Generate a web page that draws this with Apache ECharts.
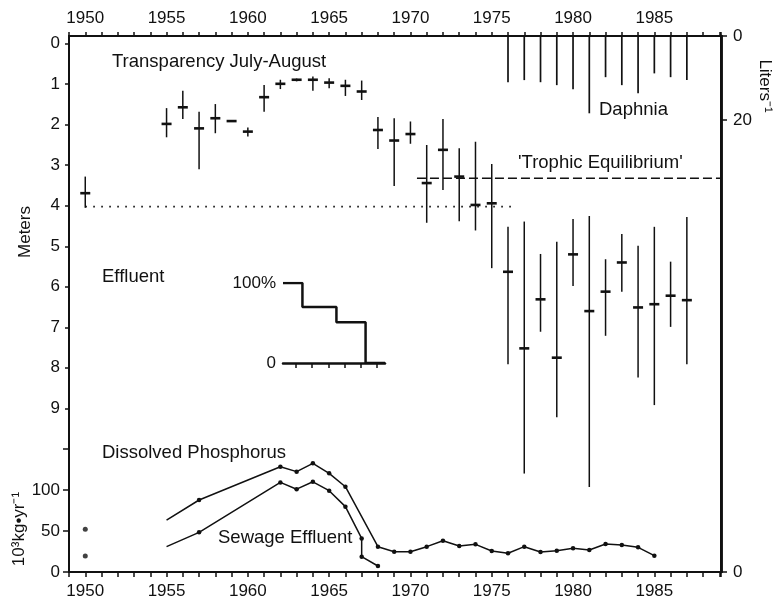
<!DOCTYPE html>
<html>
<head>
<meta charset="utf-8">
<style>
  html, body { margin: 0; padding: 0; background: #fff; }
  #chart { width: 775px; height: 603px; }
</style>
</head>
<body>
<div id="chart"></div>
<script src="https://cdn.jsdelivr.net/npm/echarts@6/dist/echarts.min.js"></script>
<script>
// Secchi transparency, July-August (meters): mean and range per year
var transYears = [1950, 1955, 1956, 1957, 1958, 1959, 1960, 1961, 1962, 1963, 1964, 1965, 1966, 1967, 1968, 1969, 1970,
                  1971, 1972, 1973, 1974, 1975, 1976, 1977, 1978, 1979, 1980, 1981, 1982, 1983, 1984, 1985, 1986, 1987];
var transMean = [3.69, 1.98, 1.57, 2.09, 1.84, 1.91, 2.17, 1.32, 0.99, 0.89, 0.89, 0.96, 1.04, 1.18, 2.13, 2.39, 2.23,
                 3.44, 2.62, 3.28, 3.98, 3.94, 5.63, 7.52, 6.31, 7.75, 5.20, 6.60, 6.12, 5.40, 6.51, 6.43, 6.22, 6.33];
var transMin  = [3.28, 1.59, 1.16, 1.68, 1.49, 1.91, 2.07, 1.02, 0.89, 0.86, 0.81, 0.85, 0.89, 0.91, 1.81, 1.84, 1.92,
                 2.50, 1.86, 2.58, 2.42, 2.97, 4.52, 4.39, 5.19, 4.89, 4.33, 4.25, 5.32, 4.70, 4.99, 4.52, 5.38, 4.28];
var transMax  = [4.05, 2.31, 1.86, 3.10, 2.21, 1.91, 2.29, 1.68, 1.12, 0.93, 1.16, 1.10, 1.29, 1.39, 2.60, 3.51, 2.47,
                 4.42, 3.61, 4.38, 4.61, 5.54, 7.91, 10.61, 7.11, 9.22, 5.98, 10.94, 7.21, 6.12, 8.24, 8.92, 6.99, 7.91];

// Daphnia (per liter)
var daphYears = [1976, 1977, 1978, 1979, 1980, 1981, 1982, 1983, 1984, 1985, 1986, 1987];
var daphDensity = [11.0, 10.5, 11.0, 11.7, 12.7, 18.4, 9.8, 11.7, 13.6, 8.9, 9.8, 10.5];

// reference levels (meters)
var clearRefYears = [1950, 1976.5];
var clearRefDepth = 4.02;
var trophicYears = [1970.4, 1989.1];
var trophicDepth = 3.32;

// effluent diverted, percent still entering the lake
var effluentYears = [1962.2, 1963.4, 1965.5, 1967.3, 1968.5];
var effluentPct = [100, 70, 51, 0, 0];

// phosphorus loading (10^3 kg/yr)
var phosYears = [1955, 1957, 1962, 1963, 1964, 1965, 1966, 1968, 1969, 1970, 1971, 1972, 1973, 1974, 1975,
                 1976, 1977, 1978, 1979, 1980, 1981, 1982, 1983, 1984, 1985];
var phosDissolved = [63.4, 87.8, 128.4, 122.4, 132.5, 120.3, 104, 30.9, 24.8, 24.8, 30.9, 38.2, 31.7, 33.7, 25.6,
                     22.8, 30.9, 24.4, 26.0, 28.9, 26.8, 34.1, 32.9, 30.1, 19.9];
var sewageYears = [1955, 1957, 1962, 1963, 1964, 1965, 1966, 1967, 1967, 1968];
var sewageLoad = [30.9, 48.4, 109.3, 101, 110, 99.2, 79.7, 41, 18.7, 7.3];
var phos1950 = [52, 19.5];

// tick labels
var yearLabels = [1950, 1955, 1960, 1965, 1970, 1975, 1980, 1985];
var meterTicks = [0, 1, 2, 3, 4, 5, 6, 7, 8, 9];
var daphTicks = [0, 20];
var phosTicks = [0, 50, 100, 150];
var phosLabels = [0, 50, 100];
var effTicks = [1963, 1964, 1965, 1966, 1967, 1968];
var effLabels = [0, 100];

var FONT = '"Liberation Sans", Arial, Helvetica, sans-serif';
var INK = '#111';

// plot area, shared by the main grids and the frame
var PLOT = { left: 69, right: 54, top: 36, bottom: 31 };

function zip(a, b) {
	var out = [];
	for (var i = 0; i < a.length; i++) out.push([a[i], b[i]]);
	return out;
}

// depths and densities hang down from the top axis: plot them as negatives
function neg(arr) {
	return arr.map(function (v) { return -v; });
}

var transData = [];
for (var i = 0; i < transYears.length; i++) {
	transData.push([transYears[i], -transMean[i], -transMin[i], -transMax[i]]);
}

function renderTrans(params, api) {
	var x = api.value(0);
	var top = api.coord([x, api.value(2)]);
	var bot = api.coord([x, api.value(3)]);
	var mid = api.coord([x, api.value(1)]);
	return {
		type: 'group',
		children: [{
			type: 'line',
			shape: { x1: top[0], y1: top[1], x2: bot[0], y2: bot[1] },
			style: { stroke: INK, lineWidth: 1.5 }
		}, {
			type: 'line',
			shape: { x1: mid[0] - 5, y1: mid[1], x2: mid[0] + 5, y2: mid[1] },
			style: { stroke: INK, lineWidth: 2.6 }
		}]
	};
}

function label(extra) {
	var o = { fontSize: 17, fontFamily: FONT, color: INK, formatter: function (v) { return String(Math.abs(v)); } };
	for (var k in extra) o[k] = extra[k];
	return o;
}

function line(width) {
	return { show: true, onZero: false, lineStyle: { color: INK, width: width } };
}

function ticks(len, values) {
	var t = { show: true, length: len, lineStyle: { color: INK, width: 1.5 } };
	if (values) t.customValues = values;
	return t;
}

function text(str, x, y, opts) {
	opts = opts || {};
	return {
		type: 'text',
		x: x,
		y: y,
		rotation: opts.rotation || 0,
		silent: true,
		style: {
			text: str,
			fill: INK,
			font: (opts.size || 18.5) + 'px ' + FONT,
			align: opts.align || 'left',
			textAlign: opts.align || 'left',
			verticalAlign: 'middle',
			textVerticalAlign: 'middle'
		}
	};
}

function grid(extra) {
	var g = { left: PLOT.left, right: PLOT.right, top: PLOT.top, bottom: PLOT.bottom, outerBoundsMode: 'none' };
	for (var k in extra) g[k] = extra[k];
	return g;
}

var chart = echarts.init(document.getElementById('chart'));
var W = 775, H = 603;

var option = {
	backgroundColor: '#fff',
	animation: false,
	grid: [
		// 0: only carries the top year axis
		grid(),
		// 1: main plot, all y scales
		grid(),
		// 2: effluent inset
		{ left: 283, right: 390, top: 283, bottom: 240, outerBoundsMode: 'none' }
	],
	xAxis: [{
		gridIndex: 0, type: 'value', position: 'top',
		min: 1949, max: 1989.1, interval: 1,
		axisLine: line(2),
		axisTick: ticks(4),
		axisLabel: label({ customValues: yearLabels, margin: 9 }),
		splitLine: { show: false }
	}, {
		gridIndex: 1, type: 'value', position: 'bottom',
		min: 1949, max: 1989.1, interval: 1,
		axisLine: line(2),
		axisTick: ticks(5),
		axisLabel: label({ customValues: yearLabels, margin: 11 }),
		splitLine: { show: false }
	}, {
		gridIndex: 2, type: 'value', position: 'bottom',
		min: 1962.2, max: 1968.5,
		axisLine: line(2.5),
		axisTick: ticks(5, effTicks),
		axisLabel: { show: false },
		splitLine: { show: false }
	}],
	yAxis: [{
		// 0: placeholder for grid 0
		gridIndex: 0, type: 'value', show: false, min: 0, max: 1
	}, {
		// 1: meters, 0 at top
		gridIndex: 1, type: 'value', position: 'left',
		min: -13.04, max: 0.19,
		axisLine: line(2),
		axisTick: ticks(4, neg(meterTicks)),
		axisLabel: label({ customValues: neg(meterTicks), margin: 9 }),
		splitLine: { show: false }
	}, {
		// 2: Daphnia per liter, 0 at top
		gridIndex: 1, type: 'value', position: 'right',
		min: -127.6, max: 0,
		axisLine: line(2.5),
		axisTick: ticks(6, neg(daphTicks)),
		axisLabel: label({ customValues: neg(daphTicks), margin: 12 }),
		splitLine: { show: false }
	}, {
		// 3: phosphorus loading
		gridIndex: 1, type: 'value', position: 'left',
		min: 0, max: 653.7,
		axisLine: line(2),
		axisTick: ticks(6, phosTicks),
		axisLabel: label({ customValues: phosLabels, margin: 9 }),
		splitLine: { show: false }
	}, {
		// 4: zero of the lower right scale
		gridIndex: 1, type: 'value', position: 'right',
		min: 0, max: 653.7,
		axisLine: line(2.5),
		axisTick: ticks(6, [0]),
		axisLabel: label({ customValues: [0], margin: 12 }),
		splitLine: { show: false }
	}, {
		// 5: effluent percent
		gridIndex: 2, type: 'value', position: 'left',
		min: 0, max: 100,
		axisLine: { show: false },
		axisTick: { show: false },
		axisLabel: label({
			customValues: effLabels, margin: 7,
			formatter: function (v) { return v === 100 ? '100%' : '0'; }
		}),
		splitLine: { show: false }
	}],
	graphic: [
		// outer frame of the plot area
		{
			type: 'rect', z: 100, silent: true,
			shape: { x: PLOT.left, y: PLOT.top, width: W - PLOT.left - PLOT.right, height: H - PLOT.top - PLOT.bottom },
			style: { fill: 'none', stroke: INK, lineWidth: 2 }
		},
		text('Transparency July-August', 112, 62),
		text('Daphnia', 599, 110),
		text('\'Trophic Equilibrium\'', 518, 163),
		text('Effluent', 102, 277),
		text('Dissolved Phosphorus', 102, 453),
		text('Sewage Effluent', 218, 538),
		text('Meters', 25, 232, { rotation: Math.PI / 2, align: 'center', size: 17 }),
		text('10³kg•yr⁻¹', 19, 529, { rotation: Math.PI / 2, align: 'center', size: 17 }),
		text('Liters⁻¹', 765, 86, { rotation: -Math.PI / 2, align: 'center', size: 17 })
	],
	series: [{
		name: 'Daphnia',
		type: 'bar',
		xAxisIndex: 1, yAxisIndex: 2,
		barWidth: 1.7,
		itemStyle: { color: INK },
		data: zip(daphYears, neg(daphDensity))
	}, {
		name: 'Transparency',
		type: 'custom',
		xAxisIndex: 1, yAxisIndex: 1,
		renderItem: renderTrans,
		encode: { x: 0, y: [1, 2, 3] },
		data: transData
	}, {
		name: '1950 level',
		type: 'line',
		xAxisIndex: 1, yAxisIndex: 1,
		symbol: 'none',
		lineStyle: { color: INK, width: 1.8, type: [1.6, 6.4] },
		data: [[clearRefYears[0], -clearRefDepth], [clearRefYears[1], -clearRefDepth]]
	}, {
		name: 'Trophic Equilibrium',
		type: 'line',
		xAxisIndex: 1, yAxisIndex: 1,
		symbol: 'none',
		lineStyle: { color: INK, width: 1.4, type: [9, 4] },
		data: [[trophicYears[0], -trophicDepth], [trophicYears[1], -trophicDepth]]
	}, {
		name: 'Dissolved Phosphorus',
		type: 'line',
		xAxisIndex: 1, yAxisIndex: 3,
		symbol: 'circle',
		symbolSize: function (v) { return v[0] === 1955 ? 0 : 4.5; },
		itemStyle: { color: INK },
		lineStyle: { color: INK, width: 1.5 },
		data: zip(phosYears, phosDissolved)
	}, {
		name: 'Sewage Effluent',
		type: 'line',
		xAxisIndex: 1, yAxisIndex: 3,
		symbol: 'circle',
		symbolSize: function (v) { return v[0] === 1955 ? 0 : 4.5; },
		itemStyle: { color: INK },
		lineStyle: { color: INK, width: 1.5 },
		data: zip(sewageYears, sewageLoad)
	}, {
		name: '1950 loading',
		type: 'scatter',
		xAxisIndex: 1, yAxisIndex: 3,
		symbolSize: 5,
		itemStyle: { color: INK },
		data: [[1950, phos1950[0]], [1950, phos1950[1]]]
	}, {
		name: 'Effluent',
		type: 'line',
		xAxisIndex: 2, yAxisIndex: 5,
		step: 'end',
		symbol: 'none',
		lineStyle: { color: INK, width: 2.5 },
		data: zip(effluentYears, effluentPct)
	}]
};

chart.setOption(option);
</script>
</body>
</html>
